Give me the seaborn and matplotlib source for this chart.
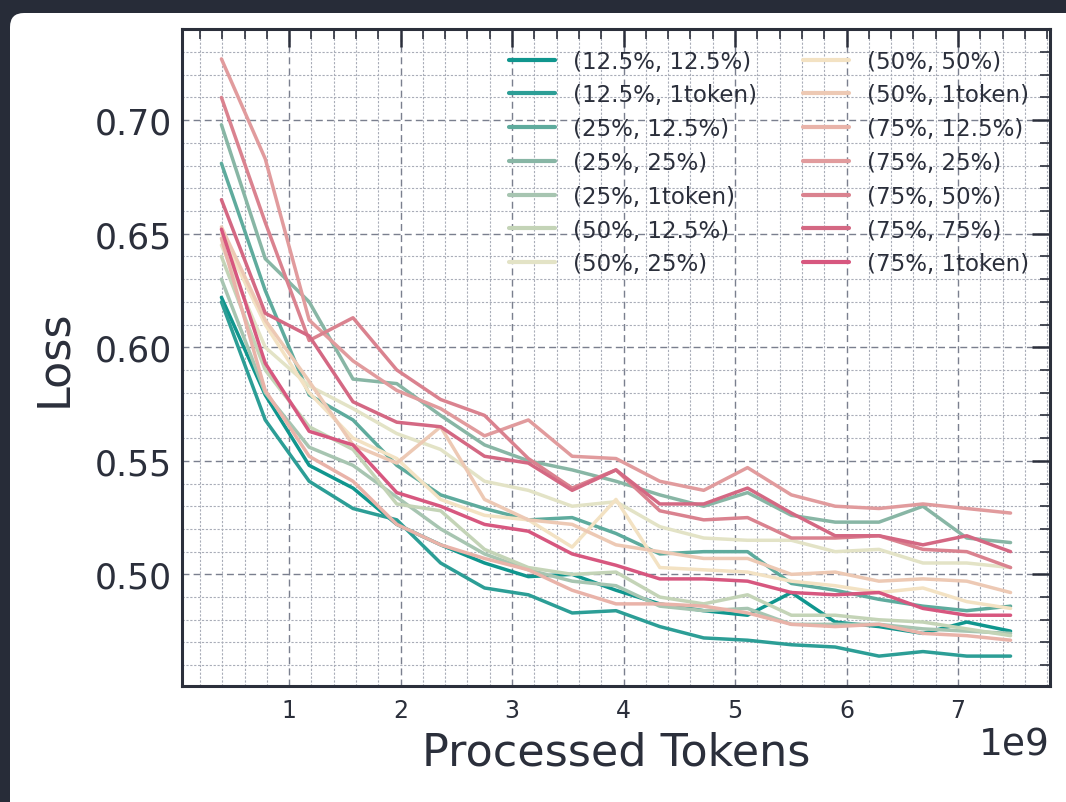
import numpy as np
import pandas as pd
import seaborn as sns
import matplotlib.pyplot as plt
from matplotlib.patches import FancyBboxPatch
from matplotlib.transforms import IdentityTransform
from matplotlib.ticker import AutoMinorLocator

# processed tokens at each eval step
tokens = np.array([0.393, 0.786, 1.180, 1.573, 1.966, 2.359, 2.753, 3.146, 3.539, 3.932,
                   4.325, 4.719, 5.112, 5.505, 5.898, 6.291, 6.685, 7.078, 7.471]) * 1e9

labels = ["(12.5%, 12.5%)", "(12.5%, 1token)", "(25%, 12.5%)", "(25%, 25%)", "(25%, 1token)",
          "(50%, 12.5%)", "(50%, 25%)", "(50%, 50%)", "(50%, 1token)", "(75%, 12.5%)",
          "(75%, 25%)", "(75%, 50%)", "(75%, 75%)", "(75%, 1token)"]

colors = ["#10968e", "#2c9e96", "#5eab9d", "#88b6a5", "#a7c5b1", "#c4d4b7", "#e3e3c6",
          "#f3e2c3", "#edc9b4", "#e9b3a9", "#e19b9d", "#da828f", "#d46883", "#d7577f"]

loss_12_12 = [0.622, 0.579, 0.548, 0.538, 0.522, 0.513, 0.505, 0.499, 0.500, 0.493,
              0.487, 0.484, 0.482, 0.492, 0.479, 0.477, 0.474, 0.479, 0.475]
loss_12_1t = [0.620, 0.568, 0.541, 0.529, 0.524, 0.505, 0.494, 0.491, 0.483, 0.484,
              0.477, 0.472, 0.471, 0.469, 0.468, 0.464, 0.466, 0.464, 0.464]
loss_25_12 = [0.681, 0.625, 0.579, 0.568, 0.548, 0.535, 0.529, 0.524, 0.525, 0.518,
              0.509, 0.510, 0.510, 0.496, 0.493, 0.489, 0.486, 0.484, 0.486]
loss_25_25 = [0.698, 0.639, 0.620, 0.586, 0.584, 0.570, 0.557, 0.550, 0.546, 0.541,
              0.535, 0.530, 0.536, 0.526, 0.523, 0.523, 0.530, 0.516, 0.514]
loss_25_1t = [0.630, 0.580, 0.556, 0.548, 0.534, 0.520, 0.509, 0.502, 0.497, 0.495,
              0.486, 0.484, 0.485, 0.478, 0.478, 0.478, 0.476, 0.475, 0.474]
loss_50_12 = [0.640, 0.590, 0.565, 0.555, 0.531, 0.528, 0.511, 0.503, 0.500, 0.501,
              0.490, 0.487, 0.491, 0.482, 0.482, 0.480, 0.479, 0.476, 0.473]
loss_50_25 = [0.645, 0.600, 0.583, 0.573, 0.562, 0.555, 0.541, 0.537, 0.530, 0.532,
              0.521, 0.516, 0.515, 0.515, 0.510, 0.511, 0.505, 0.505, 0.503]
loss_50_50 = [0.650, 0.610, 0.580, 0.560, 0.551, 0.533, 0.526, 0.524, 0.512, 0.533,
              0.503, 0.502, 0.501, 0.497, 0.495, 0.492, 0.494, 0.488, 0.485]
loss_50_1t = [0.653, 0.612, 0.585, 0.557, 0.549, 0.565, 0.533, 0.524, 0.522, 0.513,
              0.510, 0.507, 0.507, 0.500, 0.501, 0.497, 0.498, 0.497, 0.492]
loss_75_12 = [0.648, 0.581, 0.552, 0.541, 0.522, 0.513, 0.507, 0.502, 0.493, 0.487,
              0.487, 0.486, 0.483, 0.478, 0.477, 0.478, 0.474, 0.473, 0.471]
loss_75_25 = [0.727, 0.683, 0.612, 0.594, 0.581, 0.573, 0.561, 0.568, 0.552, 0.551,
              0.541, 0.537, 0.547, 0.535, 0.530, 0.529, 0.531, 0.529, 0.527]
loss_75_50 = [0.710, 0.655, 0.603, 0.613, 0.590, 0.577, 0.570, 0.551, 0.538, 0.546,
              0.528, 0.524, 0.525, 0.516, 0.516, 0.517, 0.511, 0.510, 0.503]
loss_75_75 = [0.665, 0.615, 0.605, 0.576, 0.567, 0.565, 0.552, 0.549, 0.537, 0.546,
              0.531, 0.531, 0.538, 0.527, 0.517, 0.517, 0.513, 0.517, 0.510]
loss_75_1t = [0.652, 0.593, 0.563, 0.557, 0.536, 0.530, 0.522, 0.519, 0.509, 0.504,
              0.498, 0.498, 0.497, 0.492, 0.491, 0.492, 0.485, 0.482, 0.482]

all_loss = [loss_12_12, loss_12_1t, loss_25_12, loss_25_25, loss_25_1t, loss_50_12, loss_50_25,
            loss_50_50, loss_50_1t, loss_75_12, loss_75_25, loss_75_50, loss_75_75, loss_75_1t]

rows = []
for name, vals in zip(labels, all_loss):
    for t, v in zip(tokens, vals):
        rows.append({"tokens": t, "loss": v, "config": name})
df = pd.DataFrame(rows)

ink = "#2b2f3b"
sns.set_theme(style="white")
plt.rcParams["font.family"] = ["DejaVu Sans"]
plt.rcParams["text.color"] = ink
plt.rcParams["axes.labelcolor"] = ink
plt.rcParams["xtick.color"] = ink
plt.rcParams["ytick.color"] = ink

fig = plt.figure(figsize=(10.66, 8.03), dpi=100, facecolor="#272c38")
# white card behind the plot
card = FancyBboxPatch((10, -30), 1100, 789 + 30, boxstyle="round,pad=0,rounding_size=14",
                      transform=IdentityTransform(), facecolor="white", edgecolor="none",
                      zorder=-10)
fig.patches.append(card)

ax = fig.add_axes([0.1707, 0.1445, 0.8143, 0.8181])
ax.set_facecolor("white")

sns.lineplot(data=df, x="tokens", y="loss", hue="config", hue_order=labels,
             palette=colors, linewidth=2.5, ax=ax)

ax.xaxis.set_minor_locator(AutoMinorLocator(5))
ax.yaxis.set_minor_locator(AutoMinorLocator(5))
ax.grid(which="major", linestyle=(0, (5, 3)), color="#7a7f8e", linewidth=1.0)
ax.grid(which="minor", linestyle=(0, (2, 1.5)), color="#a9adb8", linewidth=0.8)
ax.set_axisbelow(True)

ax.tick_params(which="both", direction="in", top=True, right=True, color=ink)
ax.tick_params(which="major", length=13, width=1.8)
ax.tick_params(which="minor", length=7, width=1.2)
ax.tick_params(axis="y", labelsize=25, pad=7)
ax.tick_params(axis="x", labelsize=17, pad=9)
for s in ax.spines.values():
    s.set_color(ink)
    s.set_linewidth(2.2)

ax.xaxis.get_offset_text().set_fontsize(27)
ax.set_xlabel("Processed Tokens", fontsize=32, labelpad=6)
ax.set_ylabel("Loss", fontsize=32, labelpad=14)

ax.legend(ncol=2, loc="upper right", frameon=False, fontsize=16.5, labelspacing=0.47,
          handlelength=2.0, columnspacing=2.0)
for line in ax.get_legend().get_lines():
    line.set_linewidth(3)

fig.savefig("out.png", dpi=100, facecolor=fig.get_facecolor())
